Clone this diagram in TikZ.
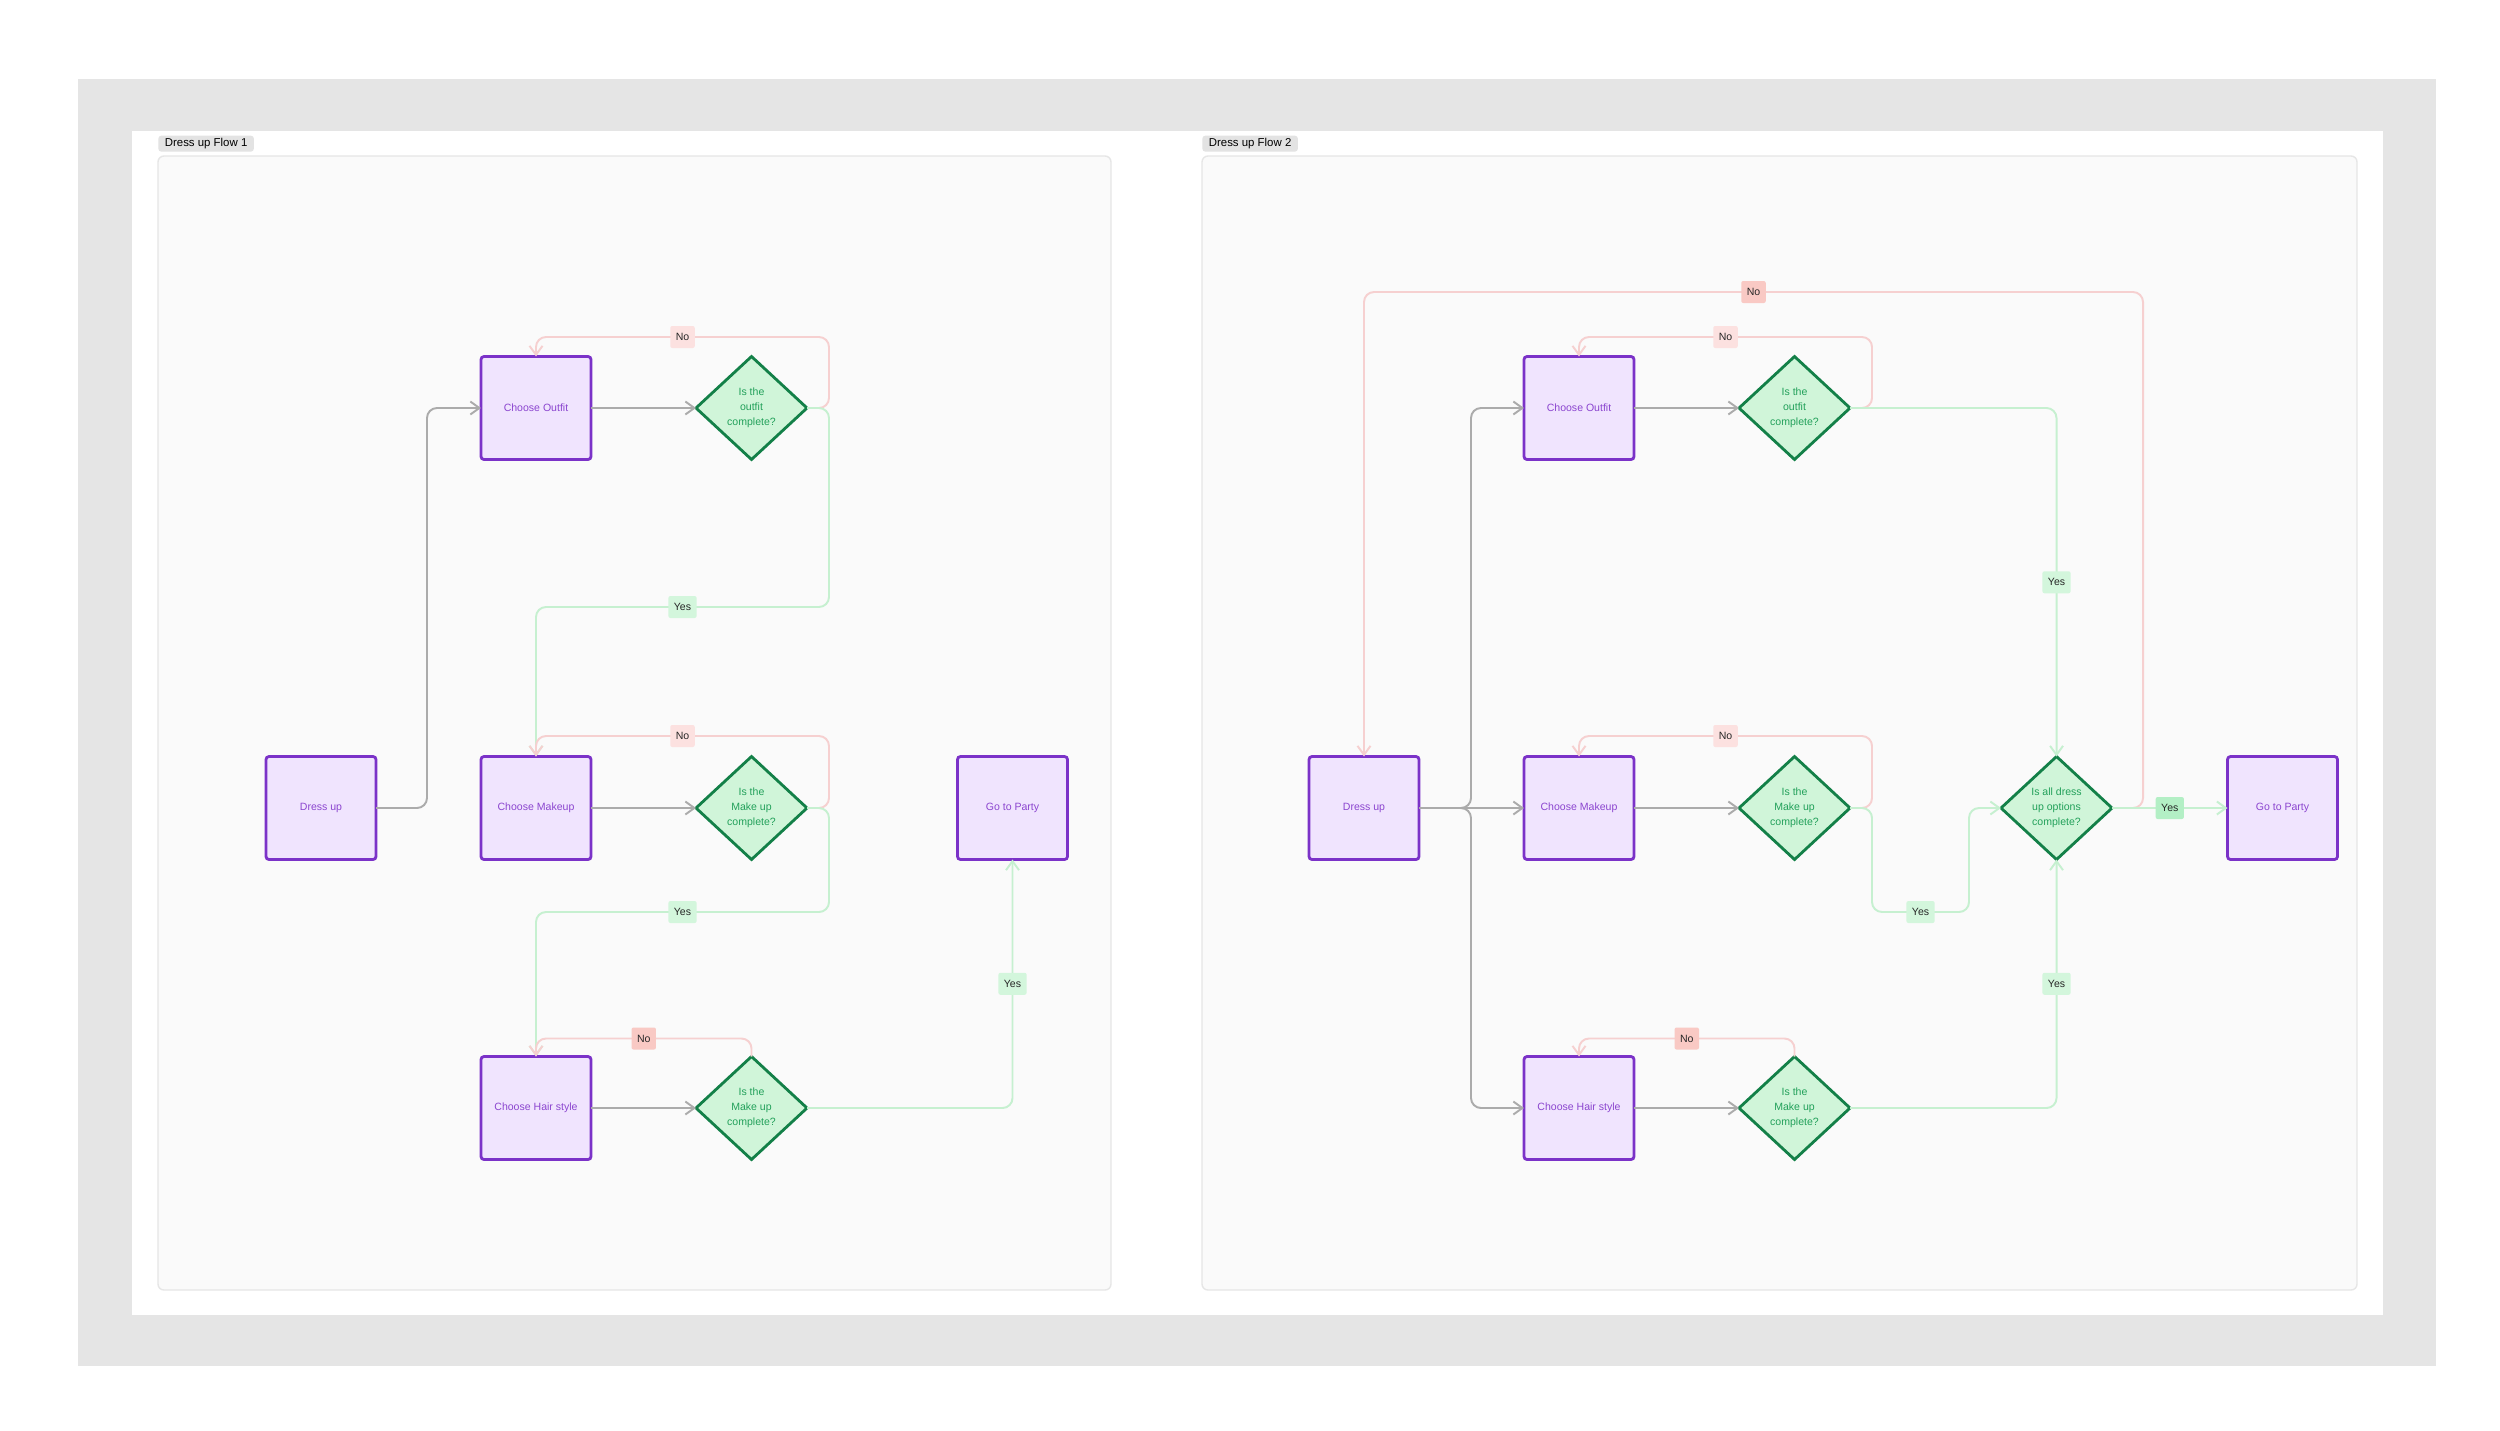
\documentclass[tikz,border=0pt]{standalone}
\usepackage{fontspec}
\setmainfont{Liberation Sans}
\usepackage{tikz}
\usetikzlibrary{arrows.meta,positioning,shapes.geometric}

\definecolor{taskfill}{HTML}{F0E4FE}
\definecolor{taskline}{HTML}{7B32C8}
\definecolor{tasktext}{HTML}{8B45CF}
\definecolor{checkfill}{HTML}{D0F5D9}
\definecolor{checkline}{HTML}{138048}
\definecolor{checktext}{HTML}{22A05A}
\definecolor{flowgray}{HTML}{ABABAB}
\definecolor{nored}{HTML}{F6D0D0}
\definecolor{nofill}{HTML}{F9C9C4}
\definecolor{nofilllight}{HTML}{FCE1E0}
\definecolor{yesgreen}{HTML}{C6F0D0}
\definecolor{yesfill}{HTML}{D3F6DC}
\definecolor{yesfillstrong}{HTML}{B3EFC5}
\definecolor{pagegray}{HTML}{E5E5E5}
\definecolor{framefill}{HTML}{FAFAFA}
\definecolor{frameline}{HTML}{E6E6E6}
\definecolor{tagfill}{HTML}{E3E3E3}

\begin{document}
\begin{tikzpicture}[
  x=0.2mm, y=-0.2mm,
  node distance=21mm,
  font=\fontsize{6}{8.5}\selectfont,
  task/.style={draw=taskline, line width=1.6pt, rounded corners=0.6mm, fill=taskfill, text=tasktext, align=center, outer sep=0pt, minimum width=22mm, minimum height=20.6mm},
  check/.style={diamond, draw=checkline, line width=1.6pt, fill=checkfill, text=checktext, align=center, inner sep=0pt, outer sep=0pt, minimum width=22.2mm, minimum height=20.6mm},
  tag/.style={fill=tagfill, rounded corners=0.6mm, text=black, inner xsep=1.3mm, inner ysep=0pt, minimum height=3.2mm, font=\fontsize{6.5}{8}\selectfont},
  tip/.style={-{Straight Barb[length=1.8mm, width=2.6mm]}},
  flow/.style={tip, draw=flowgray, line width=1.1pt, rounded corners=2mm},
  nolink/.style={tip, draw=nored, line width=1.1pt, rounded corners=2mm},
  yeslink/.style={tip, draw=yesgreen, line width=1.1pt, rounded corners=2mm},
  nolabel/.style={fill=nofilllight, text=black!85, inner xsep=1.1mm, inner ysep=0pt, minimum height=4.4mm, rounded corners=0.4mm},
  nostrong/.style={nolabel, fill=nofill},
  yeslabel/.style={fill=yesfill, text=black!85, inner xsep=1.1mm, inner ysep=0pt, minimum height=4.4mm, rounded corners=0.4mm},
  yesstrong/.style={yeslabel, fill=yesfillstrong}
]
\fill[white] (0,0) rectangle (2500,1430);
\useasboundingbox (0,0) rectangle (2500,1430);
\fill[pagegray] (78,79) rectangle (2436,1366);
\fill[white] (132,131) rectangle (2383,1315);

% frames
\draw[frameline, fill=framefill, line width=0.8pt, rounded corners=1.2mm] (158,156) rectangle (1111,1290);
\draw[frameline, fill=framefill, line width=0.8pt, rounded corners=1.2mm] (1202,156) rectangle (2357,1290);
\node[tag, anchor=south west] (tag1) at (158,152) {Dress up Flow 1};
\node[tag, anchor=south west] (tag2) at (1202,152) {Dress up Flow 2};

% Flow 1
\node[task] (makeup1) at (536,808) {Choose Makeup};
\node[task, above=59.4mm of makeup1] (outfit1) {Choose Outfit};
\node[task, below=39.4mm of makeup1] (hair1) {Choose Hair style};
\node[task, left=of makeup1] (dress1) {Dress up};
\node[check, right=of outfit1] (qoutfit1) {Is the\\outfit\\complete?};
\node[check, right=of makeup1] (qmakeup1) {Is the\\Make up\\complete?};
\node[check, right=of hair1] (qhair1) {Is the\\Make up\\complete?};
\node[task, right=30.1mm of qmakeup1] (party1) {Go to Party};

\draw[flow] (dress1.east) -- ++(51,0) |- (outfit1.west);
\draw[flow] (outfit1) -- (qoutfit1);
\draw[flow] (makeup1) -- (qmakeup1);
\draw[flow] (hair1) -- (qhair1);
\draw[nolink] (qoutfit1.east) -- ++(22,0) -- ++(0,-71) -| node[nolabel, pos=0.25] {No} (outfit1.north);
\draw[yeslink] (qoutfit1.east) -- ++(22,0) -- ++(0,199) -| node[yeslabel, pos=0.25] {Yes} (makeup1.north);
\draw[nolink] (qmakeup1.east) -- ++(22,0) -- ++(0,-72) -| node[nolabel, pos=0.25] {No} (makeup1.north);
\draw[yeslink] (qmakeup1.east) -- ++(22,0) -- ++(0,104) -| node[yeslabel, pos=0.25] {Yes} (hair1.north);
\draw[nolink] (qhair1.north) -- ++(0,-18) -| node[nostrong, pos=0.25] {No} (hair1.north);
\draw[yeslink] (qhair1.east) -| node[yeslabel, pos=0.75] {Yes} (party1.south);

% Flow 2
\node[task] (makeup2) at (1579,808) {Choose Makeup};
\node[task, above=59.4mm of makeup2] (outfit2) {Choose Outfit};
\node[task, below=39.4mm of makeup2] (hair2) {Choose Hair style};
\node[task, left=of makeup2] (dress2) {Dress up};
\node[check, right=of outfit2] (qoutfit2) {Is the\\outfit\\complete?};
\node[check, right=of makeup2] (qmakeup2) {Is the\\Make up\\complete?};
\node[check, right=of hair2] (qhair2) {Is the\\Make up\\complete?};
\node[check, right=30.2mm of qmakeup2] (qall2) {Is all dress\\up options\\complete?};
\node[task, right=23.1mm of qall2] (party2) {Go to Party};

\draw[flow] (dress2.east) -- ++(52,0) |- (outfit2.west);
\draw[flow] (dress2) -- (makeup2);
\draw[flow] (dress2.east) -- ++(52,0) |- (hair2.west);
\draw[flow] (outfit2) -- (qoutfit2);
\draw[flow] (makeup2) -- (qmakeup2);
\draw[flow] (hair2) -- (qhair2);
\draw[nolink] (qoutfit2.east) -- ++(22,0) -- ++(0,-71) -| node[nolabel, pos=0.25] {No} (outfit2.north);
\draw[nolink] (qmakeup2.east) -- ++(22,0) -- ++(0,-72) -| node[nolabel, pos=0.25] {No} (makeup2.north);
\draw[nolink] (qhair2.north) -- ++(0,-18) -| node[nostrong, pos=0.25] {No} (hair2.north);
\draw[yeslink] (qoutfit2.east) -| node[yeslabel, pos=0.75] {Yes} (qall2.north);
\draw[yeslink] (qmakeup2.east) -- ++(22,0) -- ++(0,104) -- node[yeslabel] {Yes} ++(97,0) |- (qall2.west);
\draw[yeslink] (qhair2.east) -| node[yeslabel, pos=0.75] {Yes} (qall2.south);
\draw[nolink] (qall2.east) -- ++(31,0) -- ++(0,-516) -| node[nostrong, pos=0.25] {No} (dress2.north);
\draw[yeslink] (qall2) -- node[yesstrong] {Yes} (party2);
\end{tikzpicture}
\end{document}
